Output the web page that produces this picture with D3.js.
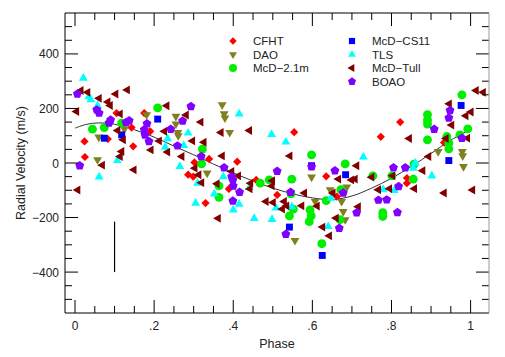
<!DOCTYPE html>
<html><head><meta charset="utf-8">
<script src="https://cdn.jsdelivr.net/npm/d3@7"></script>
<style>
html,body{margin:0;padding:0;background:#fff;}
text{font-family:"Liberation Sans",Arial,sans-serif;}
</style></head>
<body><svg id="c" width="505" height="357"></svg>
<script>
// ---- data (phase, radial velocity m/s) ----
const cfht = [[0.024,79],[0.025,22],[0.083,88],[0.105,183],[0.143,130],[0.147,61],[0.175,183],[0.190,116],[0.286,-43],[0.299,-50],[0.302,2],[0.339,15],[0.330,-147],[0.389,-95],[0.410,5],[0.458,-62],[0.511,-117],[0.554,113],[0.635,-49],[0.662,-123],[0.773,96],[0.822,150],[0.839,-55],[0.839,-74],[0.933,75]];
const dao = [[0.057,12],[0.060,95],[0.181,177],[0.125,124],[0.255,171],[0.255,143],[0.260,112],[0.261,100],[0.334,-37],[0.372,213],[0.377,180],[0.379,165],[0.391,112],[0.598,-52],[0.607,-141],[0.645,-98],[0.687,-88],[0.674,-141],[0.678,-178],[0.683,-208],[0.556,-284],[0.918,42],[0.979,42],[0.980,26],[0.982,-13]];
const mcd21 = [[0.044,124],[0.074,130],[0.118,146],[0.209,202],[0.320,-3],[0.322,51],[0.364,-84],[0.364,-126],[0.468,-74],[0.491,-62],[0.548,-59],[0.546,-113],[0.542,-194],[0.552,-169],[0.594,-172],[0.597,-194],[0.592,-215],[0.598,30],[0.624,-296],[0.635,-138],[0.672,-98],[0.670,-208],[0.683,-3],[0.753,-47],[0.778,-182],[0.778,-196],[0.801,-47],[0.855,-59],[0.857,-4],[0.891,177],[0.891,158],[0.891,143],[0.891,85],[0.940,97],[0.945,73],[0.945,52],[0.973,103],[0.978,250],[0.993,125]];
const cs11 = [[0.074,91],[0.118,103],[0.209,161],[0.598,-10],[0.684,-43],[0.542,-235],[0.625,-339],[0.976,211],[0.945,9]];
const tls = [[0.021,311],[0.035,243],[0.040,232],[0.057,210],[0.061,-51],[0.107,9],[0.228,58],[0.234,89],[0.275,64],[0.286,110],[0.265,-13],[0.310,-74],[0.305,-147],[0.352,-113],[0.375,-50],[0.415,180],[0.415,-151],[0.400,-172],[0.441,-90],[0.453,-203],[0.497,105],[0.533,77],[0.508,-165],[0.498,-207],[0.548,-160],[0.640,-233],[0.647,-129],[0.729,22],[0.779,-98],[0.807,-101],[0.860,0],[0.855,-19],[0.902,-47]];
const tull = [[0.007,-99],[0.004,189],[0.015,266],[0.032,259],[0.061,237],[0.069,-8],[0.083,224],[0.089,211],[0.103,253],[0.132,268],[0.114,180],[0.108,119],[0.122,85],[0.118,42],[0.114,24],[0.149,-25],[0.192,48],[0.213,81],[0.226,116],[0.232,210],[0.234,40],[0.281,176],[0.270,24],[0.297,81],[0.303,-19],[0.313,-43],[0.320,-72],[0.318,150],[0.326,76],[0.359,-76],[0.362,-203],[0.369,112],[0.372,26],[0.396,-31],[0.413,-47],[0.441,119],[0.444,-74],[0.442,-95],[0.483,-141],[0.499,-65],[0.498,-84],[0.501,-145],[0.529,-141],[0.535,-157],[0.524,-169],[0.543,26],[0.580,-110],[0.573,-157],[0.612,-158],[0.626,-235],[0.643,-267],[0.652,-110],[0.660,-202],[0.666,-59],[0.699,-62],[0.708,-59],[0.712,-10],[0.716,-160],[0.750,-52],[0.767,-98],[0.795,-94],[0.803,-47],[0.845,90],[0.858,-94],[0.879,-28],[0.894,24],[0.933,-110],[0.938,90],[0.946,217],[0.952,139],[0.988,173],[0.992,91],[1.001,187],[1.005,-99],[1.014,266],[1.032,259]];
const boao = [[0.006,253],[0.012,-10],[0.055,195],[0.061,183],[0.090,158],[0.086,147],[0.129,149],[0.137,155],[0.182,144],[0.175,122],[0.177,103],[0.187,79],[0.242,124],[0.259,63],[0.272,154],[0.293,207],[0.319,24],[0.377,-17],[0.396,-50],[0.399,-62],[0.400,-84],[0.416,-107],[0.399,-139],[0.511,-30],[0.545,-107],[0.533,-261],[0.598,-14],[0.657,-28],[0.678,-110],[0.668,-239],[0.712,-182],[0.767,-136],[0.788,-135],[0.805,-17],[0.835,-17],[0.818,-86],[0.815,-181],[0.908,124],[0.945,165],[0.948,193],[0.978,91]];
// orbital fit curve
const fitPhase = [0,0.03,0.06,0.1,0.15,0.2,0.25,0.3,0.35,0.4,0.45,0.5,0.55,0.6,0.65,0.7,0.75,0.8,0.85,0.9,0.95,1.0];
const fitRV    = [128,142,147,142,122,95,62,30,-4,-36,-66,-92,-113,-128,-134,-121,-92,-56,-13,35,84,124];
// typical error bar
const errPhase = 0.1, errLow = -400, errHigh = -215;
const xMajor = [0,0.2,0.4,0.6,0.8,1];
const yMajor = [-400,-200,0,200,400];
const seriesNames = ["CFHT","DAO","McD\u22122.1m","McD\u2212CS11","TLS","McD\u2212Tull","BOAO"];

// ---- drawing ----
const svg = d3.select("#c");
svg.append("rect").attr("width",505).attr("height",357).attr("fill","#fff");
const L=65,R=489,T=13,B=313;
const x = d3.scaleLinear().domain([-0.0253,1.0465]).range([L,R]);
const y = d3.scaleLinear().domain([-550,550]).range([B,T]);

const pent = {draw(ctx,size){const r=Math.sqrt(size/2.38);for(let i=0;i<5;i++){const a=-Math.PI/2+i*2*Math.PI/5;const px=r*Math.cos(a),py=r*Math.sin(a);i?ctx.lineTo(px,py):ctx.moveTo(px,py);}ctx.closePath();}};
const styles = [
 {data:cfht, type:d3.symbolSquare, size:34, rot:45, color:"#ff0000"},
 {data:dao, type:d3.symbolTriangle, size:34, rot:180, color:"#808020"},
 {data:mcd21, type:d3.symbolCircle, size:62, rot:0, color:"#00ee00"},
 {data:cs11, type:d3.symbolSquare, size:48, rot:0, color:"#0000ff"},
 {data:tls, type:d3.symbolTriangle, size:34, rot:0, color:"#00ffff"},
 {data:tull, type:d3.symbolTriangle, size:34, rot:-90, color:"#800000"},
 {data:boao, type:pent, size:52, rot:0, color:"#8000ff"}
];

// fit curve
const line = d3.line().x(d=>x(d[0])).y(d=>y(d[1])).curve(d3.curveCatmullRom);
svg.append("path").datum(fitPhase.map((p,i)=>[p,fitRV[i]]))
  .attr("d",line).attr("fill","none").attr("stroke","#333").attr("stroke-width",1);

// points
const pts = svg.append("g");
styles.forEach(s=>{
  const sym = d3.symbol().type(s.type).size(s.size);
  pts.selectAll(null).data(s.data).enter().append("path")
    .attr("d",sym)
    .attr("transform",d=>`translate(${x(d[0])},${y(d[1])}) rotate(${s.rot})`)
    .attr("fill",s.color);
});

// error bar
svg.append("line").attr("x1",x(errPhase)).attr("x2",x(errPhase))
  .attr("y1",y(errLow)).attr("y2",y(errHigh)).attr("stroke","#000").attr("stroke-width",1.2);

// axes
const ax = svg.append("g").attr("stroke","#000").attr("stroke-width",1);
const xMinor = d3.range(0,1.0001,0.05).filter(v=>!xMajor.some(m=>Math.abs(m-v)<1e-6));
const yMinor = d3.range(-500,501,50).filter(v=>!yMajor.includes(v));
xMajor.forEach(v=>{ax.append("line").attr("x1",x(v)).attr("x2",x(v)).attr("y1",B).attr("y2",B-13);
  ax.append("line").attr("x1",x(v)).attr("x2",x(v)).attr("y1",T).attr("y2",T+13);});
xMinor.forEach(v=>{ax.append("line").attr("x1",x(v)).attr("x2",x(v)).attr("y1",B).attr("y2",B-7);
  ax.append("line").attr("x1",x(v)).attr("x2",x(v)).attr("y1",T).attr("y2",T+7);});
yMajor.forEach(v=>{ax.append("line").attr("y1",y(v)).attr("y2",y(v)).attr("x1",L).attr("x2",L+13);
  ax.append("line").attr("y1",y(v)).attr("y2",y(v)).attr("x1",R).attr("x2",R-13);});
yMinor.forEach(v=>{ax.append("line").attr("y1",y(v)).attr("y2",y(v)).attr("x1",L).attr("x2",L+7);
  ax.append("line").attr("y1",y(v)).attr("y2",y(v)).attr("x1",R).attr("x2",R-7);});
ax.append("line").attr("x1",L).attr("x2",R).attr("y1",B).attr("y2",B);
ax.append("line").attr("x1",L).attr("x2",R).attr("y1",T).attr("y2",T);
ax.append("line").attr("x1",L).attr("x2",L).attr("y1",T).attr("y2",B);
ax.append("line").attr("x1",R).attr("x2",R).attr("y1",T).attr("y2",B).attr("stroke","#999");

const fx = v=> v===0?"0":v===1?"1":d3.format(".1f")(v).replace(/^0/,"");
xMajor.forEach(v=>svg.append("text").attr("x",x(v)).attr("y",330).attr("text-anchor","middle")
  .attr("font-size",12).attr("fill","#222").text(fx(v)));
yMajor.forEach(v=>svg.append("text").attr("x",59).attr("y",y(v)+4.5).attr("text-anchor","end")
  .attr("font-size",12).attr("fill","#222").text(d3.format("")(v)));
svg.append("text").attr("x",277).attr("y",348).attr("text-anchor","middle").attr("font-size",12.5)
  .attr("fill","#222").text("Phase");
svg.append("text").attr("transform","translate(25,163) rotate(-90)").attr("text-anchor","middle")
  .attr("font-size",12.5).attr("fill","#222").text("Radial Velocity (m/s)");

// legend
const legPos = [[233,41],[233,54.5],[233,68],[352,41],[352,54.5],[352,68],[352,81.5]];
styles.forEach((s,i)=>{
  const [lx,ly]=legPos[i];
  svg.append("path").attr("d",d3.symbol().type(s.type).size(s.size*0.8))
    .attr("transform",`translate(${lx},${ly}) rotate(${s.rot})`).attr("fill",s.color);
  svg.append("text").attr("x",lx+20).attr("y",ly+4).attr("font-size",11.5).attr("fill","#222").text(seriesNames[i]);
});
</script></body></html>
